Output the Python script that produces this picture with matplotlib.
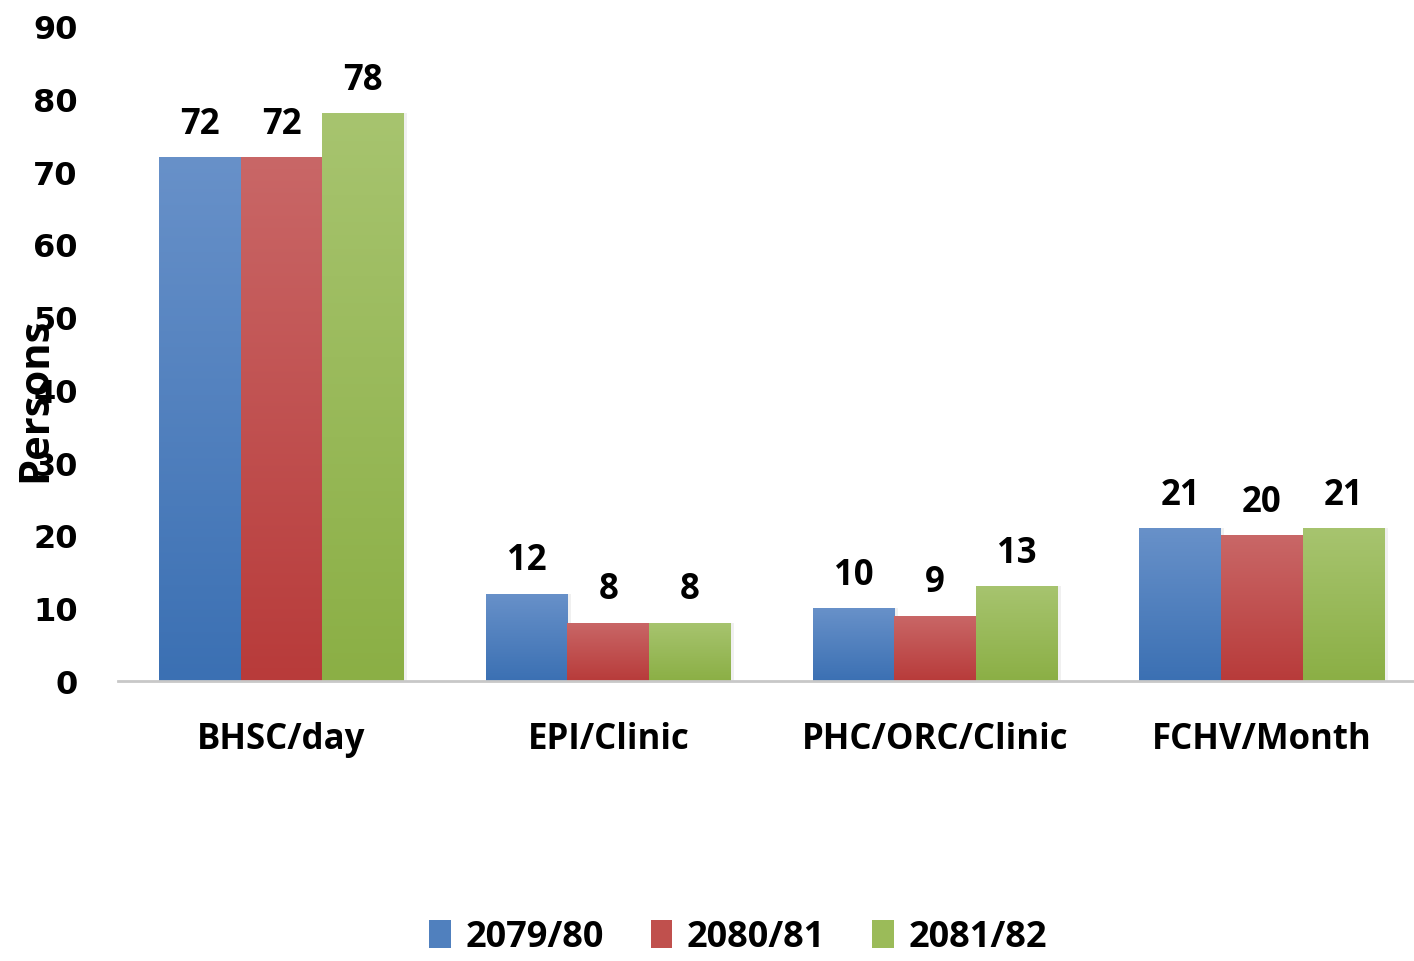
import matplotlib
matplotlib.use("Agg")
import matplotlib.pyplot as plt
import numpy as np
from matplotlib.colors import LinearSegmentedColormap
from matplotlib.patches import Patch

categories = ["BHSC/day", "EPI/Clinic", "PHC/ORC/Clinic", "FCHV/Month"]
years = ["2079/80", "2080/81", "2081/82"]
v_2079 = [72, 12, 10, 21]
v_2080 = [72, 8, 9, 20]
v_2081 = [78, 8, 13, 21]
series = [v_2079, v_2080, v_2081]

# (top colour, bottom colour) for the bar gradients
grads = [("#6891C9", "#3B70B3"), ("#C96767", "#B83B3A"), ("#A7C46F", "#8BAF45")]
mids = ["#5080BE", "#C0504D", "#9BBB59"]

txtfont = "Open Sans"

fig = plt.figure(figsize=(14.14, 9.62), dpi=100)
ax = fig.add_axes([0.0835, 0.291, 0.9165, 0.681])

x = np.arange(len(categories))
w = 0.25
for i, vals in enumerate(series):
    bars = ax.bar(x + (i - 1) * w, vals, w, color="none", zorder=3)
    cmap = LinearSegmentedColormap.from_list("g%d" % i, [grads[i][1], grads[i][0]])
    for b in bars:
        x0, y0 = b.get_x(), b.get_y()
        bw, bh = b.get_width(), b.get_height()
        grad = np.linspace(0, 1, 256).reshape(-1, 1)
        im = ax.imshow(grad, cmap=cmap, origin="lower", aspect="auto",
                       extent=(x0, x0 + bw, y0, y0 + bh), zorder=2)
        im.set_clip_path(b)
        # soft shadow on the right
        ax.bar(x0 + bw, bh, 0.01, align="edge", color="#000000", alpha=0.06, zorder=1)
    for b, v in zip(bars, vals):
        ax.annotate(str(v), (b.get_x() + b.get_width() / 2, v), xytext=(0, 24),
                    textcoords="offset points", ha="center", va="center",
                    fontsize=25, fontweight="bold", family=txtfont)

ax.set_xlim(-0.5, 3.465)
ax.set_ylim(0, 90)
ax.set_yticks(range(0, 91, 10))
ax.set_yticklabels([str(t) for t in range(0, 91, 10)], fontsize=23, fontweight="bold")
ax.tick_params(axis="y", length=0, pad=29)
ax.set_xticks(x)
ax.set_xticklabels(categories, fontsize=25, fontweight="bold", family=txtfont)
ax.tick_params(axis="x", length=0, pad=29)
for s in ["top", "right", "left"]:
    ax.spines[s].set_visible(False)
ax.spines["bottom"].set_color("#C8C8C8")
ax.spines["bottom"].set_linewidth(2)
ax.spines["bottom"].set_zorder(4)

fig.text(0.025, 0.584, "Persons", rotation=90, ha="center", va="center",
         fontsize=30, fontweight="bold", family=txtfont)

handles = [Patch(facecolor=c) for c in mids]
fig.legend(handles, years, loc="lower center", bbox_to_anchor=(0.522, -0.028), ncol=3,
           frameon=False, handlelength=0.6, handleheight=0.8, handletextpad=0.4,
           columnspacing=1.3, prop={"family": txtfont, "weight": "bold", "size": 26})

fig.savefig("out.png", dpi=100)
